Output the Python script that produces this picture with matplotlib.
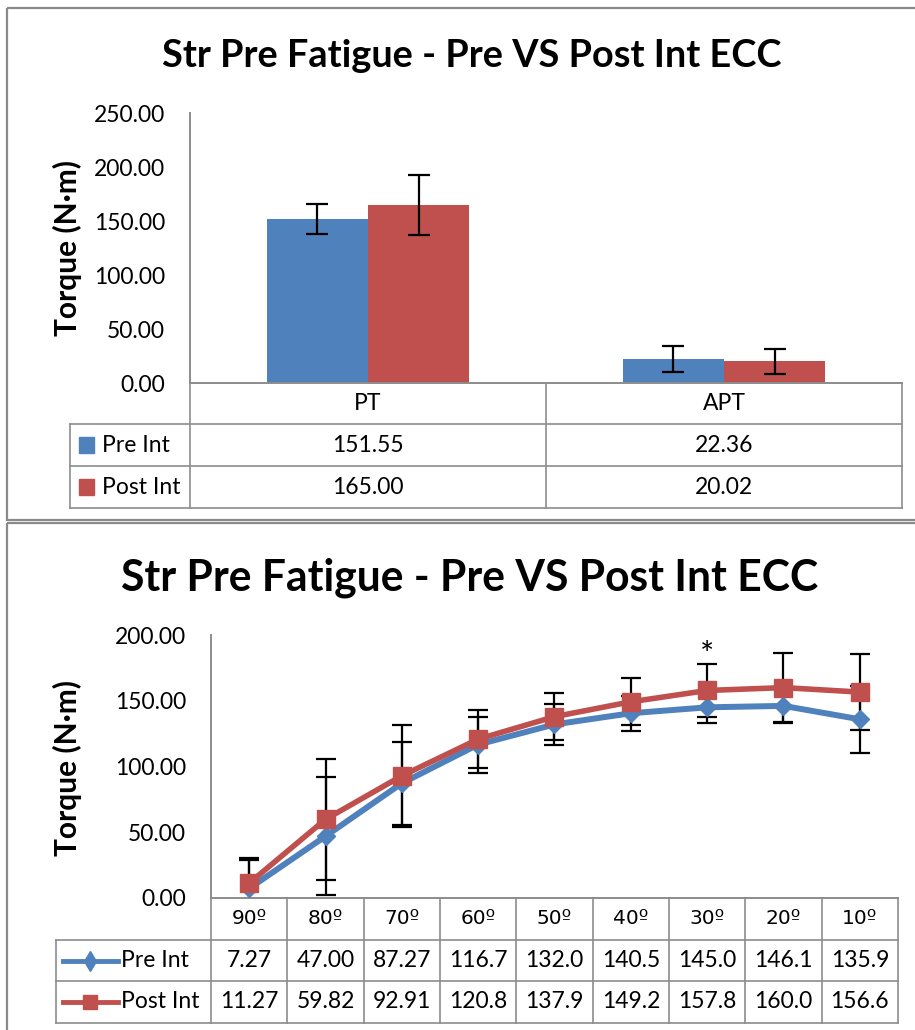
import matplotlib
matplotlib.use('Agg')
import matplotlib.pyplot as plt
import matplotlib.transforms as mtransforms
from matplotlib.patches import Rectangle
from matplotlib.lines import Line2D
import numpy as np

plt.rcParams['font.family'] = ['Lato', 'DejaVu Sans']

# ---- data ----
bar_cats = ['PT', 'APT']
bar_pre = [151.55, 22.36]
bar_post = [165.00, 20.02]
bar_pre_sd = [14.0, 11.8]
bar_post_sd = [28.0, 11.7]

angles = ['90º', '80º', '70º', '60º', '50º', '40º', '30º', '20º', '10º']
line_pre = [7.27, 47.00, 87.27, 116.7, 132.0, 140.5, 145.0, 146.1, 135.9]
line_post = [11.27, 59.82, 92.91, 120.8, 137.9, 149.2, 157.8, 160.0, 156.6]
line_pre_sd = [22.0, 45.0, 31.4, 21.3, 15.5, 13.3, 12.2, 12.8, 25.4]
line_post_sd = [19.0, 46.0, 39.0, 21.9, 17.8, 18.0, 20.0, 26.5, 29.0]
line_pre_lbl = ['7.27', '47.00', '87.27', '116.7', '132.0', '140.5', '145.0', '146.1', '135.9']
line_post_lbl = ['11.27', '59.82', '92.91', '120.8', '137.9', '149.2', '157.8', '160.0', '156.6']
sig_idx = 6  # asterisk at 30º

title = 'Str Pre Fatigue - Pre VS Post Int ECC'
ylabel = 'Torque (N·m)'
series = ['Pre Int', 'Post Int']
BLUE = '#4F81BD'
RED = '#C0504D'
GRID = '#8C8C8C'

W, H = 915, 1030
fig = plt.figure(figsize=(W / 100, H / 100), dpi=100)
# pixel coords, origin top-left
px = mtransforms.Affine2D().scale(1 / W, -1 / H).translate(0, 1) + fig.transFigure

# panel frames
for y0 in (8, 523):
    fig.add_artist(Rectangle((7, y0), 930, 512, transform=px, fill=False,
                             edgecolor='#8A8A8A', lw=1.6))


def hline(x0, x1, y):
    fig.add_artist(Line2D([x0, x1], [y, y], transform=px, color=GRID, lw=1.2))


def style_axes(ax, ymax, step):
    ax.set_ylim(0, ymax)
    ax.set_yticks(np.arange(0, ymax + 1, step))
    ax.set_yticklabels(['%.2f' % v for v in np.arange(0, ymax + 1, step)])
    ax.tick_params(axis='y', length=0, pad=18, labelsize=16.5)
    ax.set_xticks([])
    for s in ('top', 'right'):
        ax.spines[s].set_visible(False)
    for s in ('left', 'bottom'):
        ax.spines[s].set_color(GRID)
        ax.spines[s].set_linewidth(1.4)


def draw_table(ax, cats, rows, y_top, y_rows, x_left, key_fn, head_font=None):
    trans = mtransforms.blended_transform_factory(ax.transData, px)
    n = len(cats)
    y_bottom = y_rows[-1]
    for b in np.arange(n + 1) - 0.5:
        ax.plot([b, b], [y_top, y_bottom], transform=trans, color=GRID, lw=1.2, clip_on=False)
    x_right = ax.transData.transform((n - 0.5, 0))[0]
    fig.add_artist(Line2D([x_left, x_left], [y_rows[0], y_bottom], transform=px, color=GRID, lw=1.2))
    for y in y_rows:
        hline(x_left, x_right, y)
    # header
    yc = (y_top + y_rows[0]) / 2
    for i, c in enumerate(cats):
        if head_font:
            ax.text(i, yc, c, transform=trans, ha='center', va='center',
                    fontsize=14.5, family=head_font)
        else:
            ax.text(i, yc, c, transform=trans, ha='center', va='center', fontsize=16.5)
    for r, (name, vals) in enumerate(rows):
        yc = (y_rows[r] + y_rows[r + 1]) / 2
        for i, v in enumerate(vals):
            ax.text(i, yc, v, transform=trans, ha='center', va='center', fontsize=16.5)
        tx = key_fn(r, yc)
        fig.text(tx, yc, name, transform=px, ha='left', va='center', fontsize=16.5)


# ---------------- top: bar chart ----------------
ax1 = fig.add_axes([190 / W, 1 - 383 / H, 712 / W, 270 / H])
x = np.arange(len(bar_cats))
bw = 0.285
ax1.bar(x - bw / 2, bar_pre, bw, color=BLUE, zorder=2)
ax1.bar(x + bw / 2, bar_post, bw, color=RED, zorder=2)
ax1.errorbar(x - bw / 2, bar_pre, yerr=bar_pre_sd, fmt='none', ecolor='black',
             elinewidth=1.6, capsize=8, capthick=1.6, zorder=3)
ax1.errorbar(x + bw / 2, bar_post, yerr=bar_post_sd, fmt='none', ecolor='black',
             elinewidth=1.6, capsize=8, capthick=1.6, zorder=3)
ax1.set_xlim(-0.5, len(bar_cats) - 0.5)
style_axes(ax1, 250, 50)

fig.text(472, 67, title, transform=px, ha='center', va='baseline',
         fontsize=27.3, fontweight='bold')
fig.text(67, 248, ylabel, transform=px, ha='center', va='center', rotation=90,
         fontsize=21.5, fontweight='bold')


def bar_key(r, yc):
    fig.add_artist(Rectangle((79, yc - 8), 15, 16, transform=px,
                             color=[BLUE, RED][r]))
    return 102


draw_table(ax1, bar_cats,
           [(series[0], ['%.2f' % v for v in bar_pre]),
            (series[1], ['%.2f' % v for v in bar_post])],
           383, [424, 466, 508], 70, bar_key)

# ---------------- bottom: line chart ----------------
ax2 = fig.add_axes([211 / W, 1 - 898 / H, 687 / W, 263 / H])
xa = np.arange(len(angles))
ax2.errorbar(xa, line_pre, yerr=line_pre_sd, fmt='none', ecolor='black',
             elinewidth=1.6, capsize=7, capthick=1.6, zorder=2)
ax2.errorbar(xa, line_post, yerr=line_post_sd, fmt='none', ecolor='black',
             elinewidth=1.6, capsize=7, capthick=1.6, zorder=2)
ax2.plot(xa, line_pre, color=BLUE, lw=4.3, marker='D', ms=9.5, mew=1,
         mec=BLUE, zorder=3, clip_on=False)
ax2.plot(xa, line_post, color=RED, lw=4.0, marker='s', ms=13, mew=1,
         mec=RED, zorder=4, clip_on=False)
ax2.set_xlim(-0.5, len(angles) - 0.5)
style_axes(ax2, 200, 50)
ax2.text(sig_idx, line_post[sig_idx] + line_post_sd[sig_idx] + 6, '*', ha='center',
         va='center', fontsize=24)

fig.text(470, 591, title, transform=px, ha='center', va='baseline',
         fontsize=30.7, fontweight='bold')
fig.text(67, 768, ylabel, transform=px, ha='center', va='center', rotation=90,
         fontsize=21.5, fontweight='bold')


def line_key(r, yc):
    col = [BLUE, RED][r]
    mk = ['d', 's'][r]
    ms = [10, 9.5][r]
    fig.add_artist(Line2D([63, 90, 118], [yc, yc, yc], transform=px, color=col,
                          lw=3.5, marker=mk, ms=ms, markevery=[1], mec=col))
    return 121


draw_table(ax2, angles, [(series[0], line_pre_lbl), (series[1], line_post_lbl)],
           898, [940, 981, 1023], 56, line_key,
           head_font=['DejaVu Sans'])

fig.savefig('out.png', dpi=100)
